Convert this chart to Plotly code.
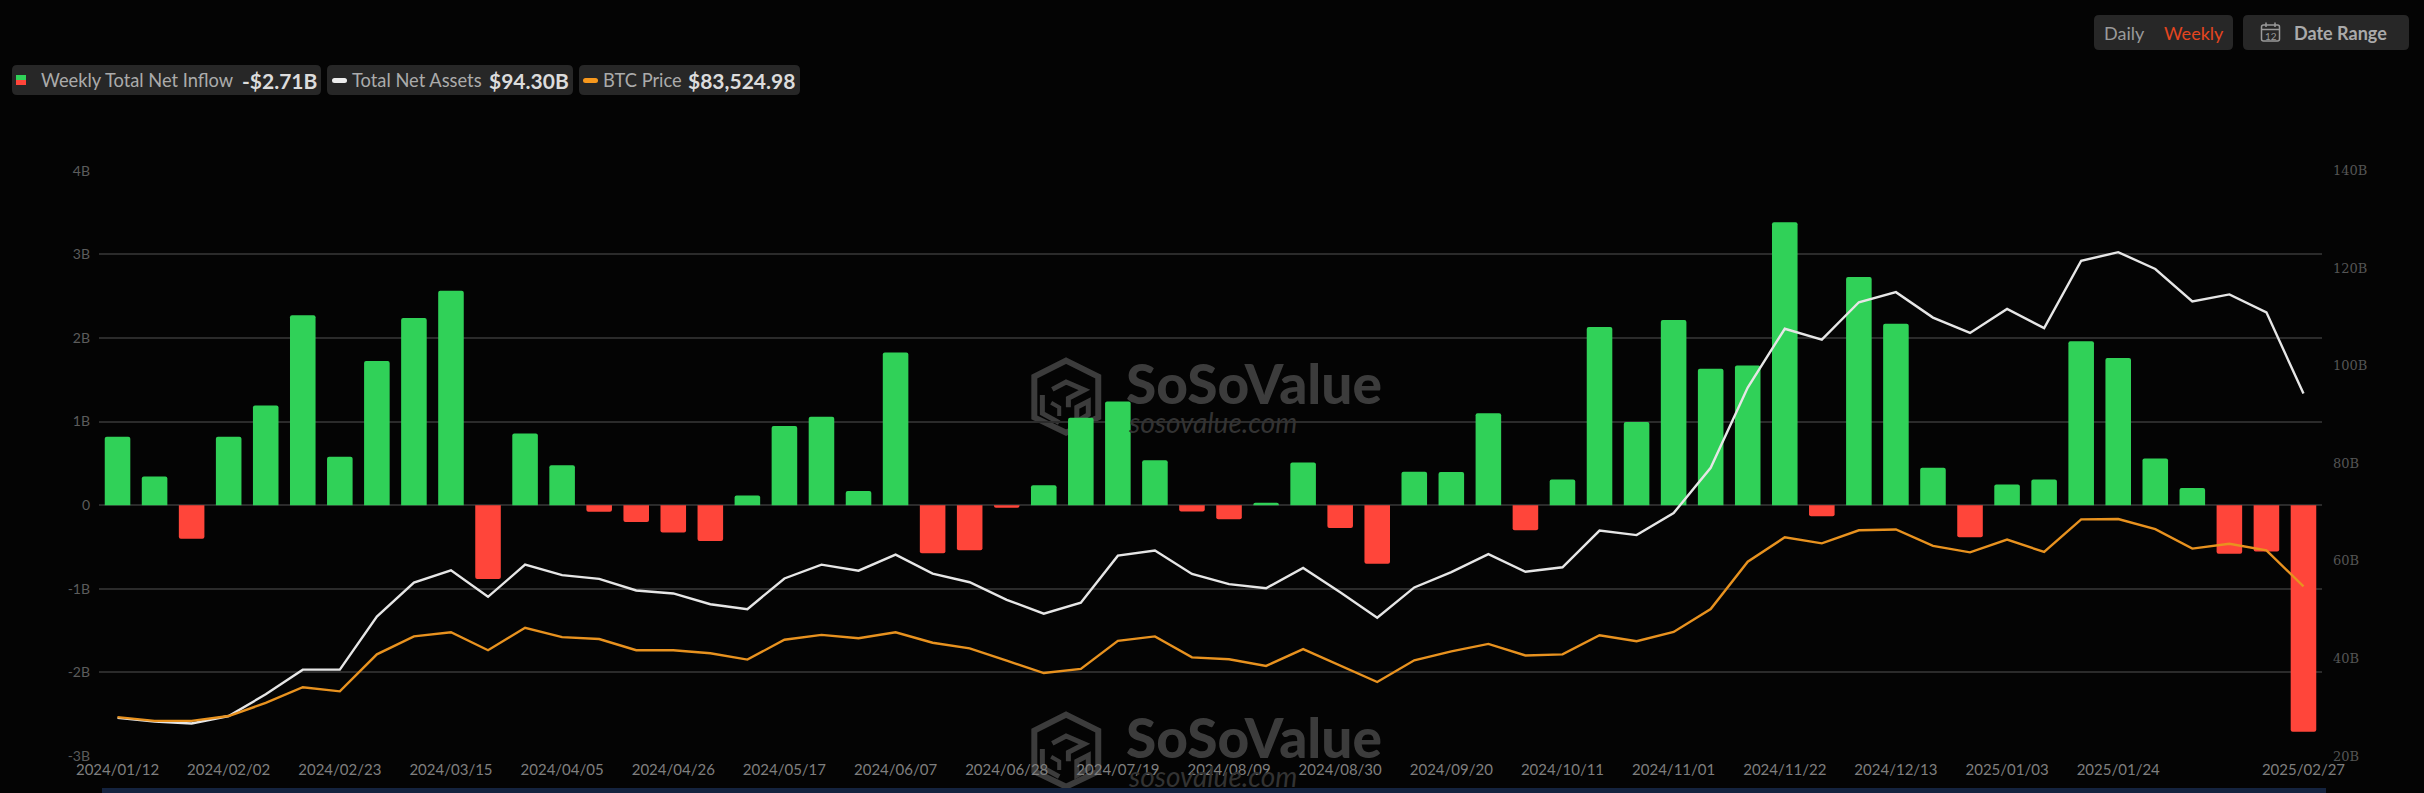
import plotly.graph_objects as go

W, H = 2424, 793

dates = ["2024/01/12","2024/01/19","2024/01/26","2024/02/02","2024/02/09","2024/02/16","2024/02/23","2024/03/01","2024/03/08","2024/03/15",
"2024/03/22","2024/03/29","2024/04/05","2024/04/12","2024/04/19","2024/04/26","2024/05/03","2024/05/10","2024/05/17","2024/05/24",
"2024/05/31","2024/06/07","2024/06/14","2024/06/21","2024/06/28","2024/07/05","2024/07/12","2024/07/19","2024/07/26","2024/08/02",
"2024/08/09","2024/08/16","2024/08/23","2024/08/30","2024/09/06","2024/09/13","2024/09/20","2024/09/27","2024/10/04","2024/10/11",
"2024/10/18","2024/10/25","2024/11/01","2024/11/08","2024/11/15","2024/11/22","2024/11/29","2024/12/06","2024/12/13","2024/12/20",
"2024/12/27","2025/01/03","2025/01/10","2025/01/17","2025/01/24","2025/01/31","2025/02/07","2025/02/14","2025/02/21","2025/02/27"]

net_inflow_b = [0.817,0.344,-0.402,0.817,1.192,2.272,0.58,1.723,2.237,2.563,
-0.884,0.857,0.478,-0.08,-0.2,-0.326,-0.43,0.116,0.946,1.058,
0.17,1.826,-0.576,-0.54,-0.03,0.237,1.045,1.241,0.536,-0.076,
-0.17,0.03,0.509,-0.272,-0.70,0.40,0.397,1.10,-0.30,0.308,
2.13,0.996,2.214,1.63,1.67,3.384,-0.134,2.728,2.17,0.446,
-0.384,0.246,0.308,1.96,1.759,0.558,0.205,-0.58,-0.554,-2.71]

net_assets_b = [27.81,27.05,26.66,28.20,32.64,37.70,37.70,48.58,55.55,58.08,
52.64,59.23,57.09,56.32,53.94,53.33,51.11,50.11,56.40,59.23,
58.0,61.30,57.39,55.63,52.03,49.19,51.42,61.07,62.14,57.32,
55.25,54.40,58.54,53.56,48.35,54.56,57.70,61.38,57.78,58.70,
66.21,65.29,69.81,79.08,95.55,107.59,105.36,113.03,115.10,109.88,
106.74,111.65,107.74,121.53,123.29,119.85,113.18,114.64,110.96,94.30]

btc_price = [42820,41657,41657,43169,47240,52124,50845,62358,67941,69220,
63638,70616,67708,67127,63638,63638,62707,60730,66894,68406,
67359,69220,65964,64219,60381,56543,57823,66545,67941,61428,
60847,58753,63987,58869,53752,60498,63289,65615,62009,62358,
68290,66429,69336,76431,91201,98760,96900,100970,101203,96085,
94108,98063,94225,104343,104459,101319,95271,96783,94690,83525]

x_ticks = ["2024/01/12","2024/02/02","2024/02/23","2024/03/15","2024/04/05","2024/04/26","2024/05/17","2024/06/07","2024/06/28",
"2024/07/19","2024/08/09","2024/08/30","2024/09/20","2024/10/11","2024/11/01","2024/11/22","2024/12/13","2025/01/03","2025/01/24","2025/02/27"]
left_vals = [-3,-2,-1,0,1,2,3,4]
left_text = ["-3B","-2B","-1B","0","1B","2B","3B","4B"]
right_vals = [20,40,60,80,100,120,140]
right_text = ["20B","40B","60B","80B","100B","120B","140B"]

BG = "#040404"; GRID = "#2b2b2b"; CHIP = "#272727"
GREEN = "#30D158"; RED = "#FF453A"; ORANGE = "#E8921F"; WHITE = "#E6E6E6"
WM = "#3c3c3c"

px = lambda x: x / W
py = lambda y: 1 - y / H

fig = go.Figure()
fig.add_trace(go.Bar(x=dates, y=net_inflow_b, name="Weekly Total Net Inflow",
    marker=dict(color=[GREEN if v >= 0 else RED for v in net_inflow_b], cornerradius=2, line_width=0),
    yaxis="y", showlegend=False))
fig.add_trace(go.Scatter(x=dates, y=net_assets_b, name="Total Net Assets", mode="lines",
    line=dict(color=WHITE, width=2.4), yaxis="y2", showlegend=False))
fig.add_trace(go.Scatter(x=dates, y=btc_price, name="BTC Price", mode="lines",
    line=dict(color=ORANGE, width=2.4), yaxis="y3", showlegend=False))

shapes, ann = [], []

def rrect(x0, y0, x1, y1, r=5, fill=CHIP, layer="below", line=None, lw=0):
    X0, X1, Y0, Y1 = px(x0), px(x1), py(y0), py(y1)
    rx, ry = r / W, r / H
    p = (f"M {X0+rx} {Y0} L {X1-rx} {Y0} Q {X1} {Y0} {X1} {Y0-ry} L {X1} {Y1+ry} Q {X1} {Y1} {X1-rx} {Y1} "
         f"L {X0+rx} {Y1} Q {X0} {Y1} {X0} {Y1+ry} L {X0} {Y0-ry} Q {X0} {Y0} {X0+rx} {Y0} Z")
    shapes.append(dict(type="path", xref="paper", yref="paper", path=p, fillcolor=fill, layer=layer,
                       line=dict(width=lw, color=line or fill)))

def text(x, y, s, size, color, font="Lato", bold=False, italic=False, anchor="left", weight=None):
    t = f"<b>{s}</b>" if bold else s
    if italic:
        t = f"<i>{t}</i>"
    f = dict(family=font, size=size, color=color)
    if weight:
        f["weight"] = weight
    ann.append(dict(xref="paper", yref="paper", x=px(x), y=py(y), text=t, showarrow=False, xanchor=anchor,
                    yanchor="middle", xshift=0, font=f, borderpad=0, borderwidth=0))

def poly(pts, color=WM, width=4, close=False, fill=None):
    p = "M " + " L ".join(f"{px(a)} {py(b)}" for a, b in pts) + (" Z" if close else "")
    d = dict(type="path", xref="paper", yref="paper", path=p, layer="below", line=dict(color=color, width=width))
    if fill:
        d["fillcolor"] = fill
    shapes.append(d)

def watermark(dy):
    L = lambda zx, zy: (900 + zx / 2.613, 330 + zy / 3 + dy)
    poly([L(434,92),L(518,140),L(518,262),L(434,308),L(351,262),L(351,140)], width=6, close=True)
    poly([L(398,178),L(434,156),L(482,180),L(440,205),L(440,232)], width=5)
    poly([L(372,195),L(372,250),L(416,278)], width=5)
    poly([L(395,218),L(416,232),L(416,258)], width=4)
    poly([L(462,232),L(492,214),L(492,254),L(462,274)], width=5, close=True)
    text(1126, 383 + dy, "SoSoValue", 55, WM, font="Lato", weight=900)
    text(1128, 422 + dy, "sosovalue.com", 28, "#333333", font="Lato", italic=True)

watermark(0)
watermark(354)

# legend chips
rrect(12, 65, 321, 95)
rrect(327, 65, 573, 95)
rrect(579, 65, 800, 95)
shapes.append(dict(type="rect", xref="paper", yref="paper", x0=px(16), x1=px(26), y0=py(80), y1=py(75), fillcolor=GREEN, line_width=0))
shapes.append(dict(type="rect", xref="paper", yref="paper", x0=px(16), x1=px(26), y0=py(85), y1=py(80), fillcolor=RED, line_width=0))
rrect(332, 78, 347, 83, r=2.5, fill="#EDEDED")
rrect(583, 78, 598, 83, r=2.5, fill="#F7981D")
text(41, 80.5, "Weekly Total Net Inflow", 18.3, "#ABABAB")
text(242, 80.5, "-$2.71B", 21, "#DCDCDC", bold=True)
text(352, 80.5, "Total Net Assets", 18.3, "#ABABAB")
text(489, 80.5, "$94.30B", 21, "#DCDCDC", bold=True)
text(603, 80.5, "BTC Price", 18.3, "#ABABAB")
text(688, 80.5, "$83,524.98", 21, "#DCDCDC", bold=True)

# top-right controls
rrect(2094, 15, 2233, 50)
rrect(2243, 15, 2409, 50)
text(2104, 32.5, "Daily", 18, "#9A9A9A")
text(2164, 32.5, "Weekly", 18, "#E5451F")
text(2294, 32.5, "Date Range", 18, "#AAAAAA", bold=True)
rrect(2261.5, 25, 2279.5, 41, r=2, fill="rgba(0,0,0,0)", line="#9A9A9A", lw=1.5)
poly([(2261.5, 29.5), (2279.5, 29.5)], color="#9A9A9A", width=1.5)
poly([(2266, 22.5), (2266, 27)], color="#9A9A9A", width=1.5)
poly([(2275, 22.5), (2275, 27)], color="#9A9A9A", width=1.5)
text(2270.5, 35.5, "12", 10, "#9A9A9A", anchor="center")

# bottom strip
shapes.append(dict(type="rect", xref="paper", yref="paper", x0=px(102), x1=px(2326), y0=py(793), y1=py(788),
                   fillcolor="#14233F", line_width=0, layer="below"))

fig.update_layout(
    width=W, height=H, autosize=False,
    margin=dict(l=0, r=0, t=0, b=0, pad=0),
    paper_bgcolor=BG, plot_bgcolor=BG,
    bargap=0.31, showlegend=False, hovermode=False,
    shapes=shapes, annotations=ann,
    xaxis=dict(domain=[px(99), px(2322)], type="category", categoryorder="array", categoryarray=dates,
               range=[-0.5, 59.5], tickmode="array", tickvals=x_ticks, ticktext=x_ticks,
               showgrid=False, zeroline=False, showline=False, ticks="", automargin=False,
               ticklabelstandoff=3, tickangle=0, ticklabeloverflow="allow",
               tickfont=dict(family="Lato", size=15, color="#7F7F7F")),
    yaxis=dict(domain=[py(756), py(170.7)], range=[-3, 4], tickmode="array", tickvals=left_vals, ticktext=left_text,
               gridcolor=GRID, gridwidth=1.5, zeroline=False, showline=False, ticks="", automargin=False,
               ticklabelstandoff=8, tickfont=dict(family="Lato", size=14, color="#5C5C5C")),
    yaxis2=dict(domain=[py(756), py(170.7)], overlaying="y", side="right", range=[20, 140], anchor="x",
                tickmode="array", tickvals=right_vals, ticktext=right_text, showgrid=False, zeroline=False,
                showline=False, ticks="", automargin=False, ticklabelstandoff=10,
                tickfont=dict(family="DejaVu Serif", size=13, color="#555555")),
    yaxis3=dict(domain=[py(756), py(170.7)], overlaying="y", range=[30725, 212851], visible=False, anchor="x"),
)

fig.write_html("out.html", config=dict(displayModeBar=False),
               post_script="document.documentElement.style.background='#040404';document.body.style.margin='0';document.body.style.background='#040404';document.body.style.overflow='hidden';")
